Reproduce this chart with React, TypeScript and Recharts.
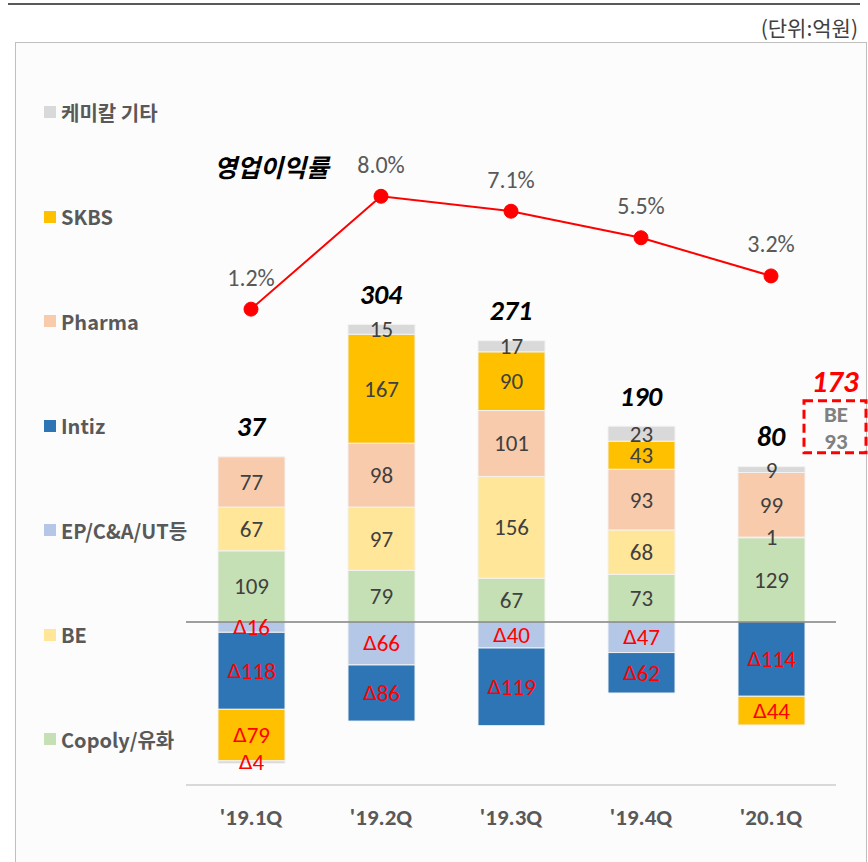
import { ComposedChart, Bar, Line, XAxis, YAxis, LabelList, ReferenceLine } from "recharts";

const categories = ["'19.1Q", "'19.2Q", "'19.3Q", "'19.4Q", "'20.1Q"];
const copoly = [109, 79, 67, 73, 129];
const ep = [-16, -66, -40, -47, 1];
const be = [67, 97, 156, 68, null];
const intiz = [-118, -86, -119, -62, -114];
const pharma = [77, 98, 101, 93, 99];
const skbs = [-79, 167, 90, 43, -44];
const etc = [-4, 15, 17, 23, 9];
const totals = [37, 304, 271, 190, 80];
const opMargin = [1.2, 8.0, 7.1, 5.5, 3.2];
const beAdd = 93;
const totalWithBe = 173;

const series = [
  { key: "copoly", name: "Copoly/유화", color: "#C5E0B4" },
  { key: "ep", name: "EP/C&A/UT등", color: "#B4C7E7" },
  { key: "be", name: "BE", color: "#FFE699" },
  { key: "intiz", name: "Intiz", color: "#2E75B6" },
  { key: "pharma", name: "Pharma", color: "#F8CBAD" },
  { key: "skbs", name: "SKBS", color: "#FFC000" },
  { key: "etc", name: "케미칼 기타", color: "#D9D9D9" },
];

const legendOrder = ["etc", "skbs", "pharma", "intiz", "ep", "be", "copoly"];

const data = categories.map((name, i) => {
  const vals = [copoly[i], ep[i], be[i], intiz[i], pharma[i], skbs[i], etc[i]];
  const posTop = vals.reduce((s: number, v) => s + (v != null && v > 0 ? v : 0), 0);
  return {
    name,
    copoly: copoly[i],
    ep: ep[i],
    be: be[i],
    intiz: intiz[i],
    pharma: pharma[i],
    skbs: skbs[i],
    etc: etc[i],
    total: totals[i],
    margin: opMargin[i],
    posTop,
  };
});

const numFont = "Carlito, Lato, 'Noto Sans CJK KR', sans-serif";
const krFont = "'Noto Sans CJK KR', 'Noto Sans', sans-serif";

const SegLabel = (props: any) => {
  const { x, y, width, height, value } = props;
  if (value == null) return null;
  const cx = x + width / 2;
  const cy = y + height / 2;
  const neg = value < 0;
  return (
    <text
      x={cx}
      y={cy}
      textAnchor="middle"
      dominantBaseline="central"
      fontSize={23}
      fontFamily={numFont}
      fill={neg ? "#FF0000" : "#404040"}
    >
      {neg && (
        <tspan fontFamily="'DejaVu Sans', sans-serif" fontSize={20}>
          {"Δ"}
        </tspan>
      )}
      {neg ? Math.abs(value) : value}
    </text>
  );
};

const TotalLabel = (props: any) => {
  const { x, y, value, index } = props;
  return (
    <g>
      <text
        x={x}
        y={y - 30}
        textAnchor="middle"
        dominantBaseline="central"
        fontSize={28}
        fontWeight="bold"
        fontStyle="italic"
        fontFamily={numFont}
        fill="#000"
      >
        {value}
      </text>
      {index === categories.length - 1 && (
        <g>
          <text
            x={x + 64}
            y={y - 86}
            textAnchor="middle"
            dominantBaseline="central"
            fontSize={31}
            fontWeight="bold"
            fontStyle="italic"
            fontFamily={numFont}
            fill="#FF0000"
          >
            {totalWithBe}
          </text>
          <rect
            x={x + 33}
            y={y - 66}
            width={62}
            height={52}
            fill="none"
            stroke="#FF0000"
            strokeWidth={3}
            strokeDasharray="9 5"
          />
          <text x={x + 65} y={y - 53} textAnchor="middle" dominantBaseline="central" fontSize={23} fontWeight="bold" fontFamily={numFont} fill="#808080">
            BE
          </text>
          <text x={x + 65} y={y - 26} textAnchor="middle" dominantBaseline="central" fontSize={23} fontWeight="bold" fontFamily={numFont} fill="#808080">
            {beAdd}
          </text>
        </g>
      )}
    </g>
  );
};

const MarginLabel = (props: any) => {
  const { x, y, value } = props;
  return (
    <text
      x={x}
      y={y - 32}
      textAnchor="middle"
      dominantBaseline="central"
      fontSize={24}
      fontFamily={numFont}
      fill="#595959"
    >
      {value.toFixed(1) + "%"}
    </text>
  );
};

export default function App() {
  return (
    <div style={{ position: "absolute", left: 0, top: 0, width: 868, height: 862, background: "#fff", overflow: "hidden" }}>
      <div style={{ position: "absolute", left: 8, top: 3, width: 852, height: 2, background: "#595959" }} />
      <div style={{ position: "absolute", right: 10, top: 12, fontSize: 21, color: "#404040", fontFamily: krFont }}>
        (단위:억원)
      </div>
      <div
        style={{
          position: "absolute",
          left: 15,
          top: 42,
          width: 850,
          height: 840,
          border: "1px solid #bfbfbf",
          background: "#fcfcfc",
        }}
      />

      {legendOrder.map((k, i) => {
        const s = series.find((d) => d.key === k)!;
        return (
          <div
            key={k}
            style={{
              position: "absolute",
              left: 44,
              top: 112 + i * 104.5 - 14,
              height: 28,
              display: "flex",
              alignItems: "center",
              fontFamily: krFont,
              fontWeight: "bold",
              fontSize: 20,
              color: "#595959",
              whiteSpace: "nowrap",
            }}
          >
            <span style={{ display: "inline-block", width: 12, height: 12, background: s.color, marginRight: 5 }} />
            {s.name}
          </div>
        );
      })}

      <div
        style={{
          position: "absolute",
          left: 214,
          top: 148,
          fontSize: 25,
          fontWeight: "bold",
          fontStyle: "italic",
          fontFamily: krFont,
          color: "#000",
        }}
      >
        영업이익률
      </div>

      <div style={{ position: "absolute", left: 0, top: 0 }}>
        <ComposedChart
          width={868}
          height={862}
          data={data}
          stackOffset="sign"
          margin={{ top: 100, right: 32, bottom: 47, left: 186 }}
        >
          <XAxis
            dataKey="name"
            height={30}
            axisLine={{ stroke: "#d9d9d9", strokeWidth: 2 }}
            tickLine={false}
            tickSize={0}
            tickMargin={24}
            tick={{ fontSize: 23, fontWeight: "bold", fill: "#595959", fontFamily: numFont }}
            interval={0}
          />
          <YAxis yAxisId="left" hide domain={[-250, 800]} allowDataOverflow type="number" />
          <YAxis yAxisId="right" orientation="right" hide domain={[-27.47, 13.8]} allowDataOverflow type="number" />
          {series.map((s) => (
            <Bar
              key={s.key}
              yAxisId="left"
              dataKey={s.key}
              name={s.name}
              stackId="a"
              fill={s.color}
              stroke="#f2f2f2"
              strokeWidth={1}
              barSize={67}
              isAnimationActive={false}
            >
              <LabelList dataKey={s.key} content={SegLabel} />
            </Bar>
          ))}
          <ReferenceLine yAxisId="left" y={0} stroke="#808080" strokeWidth={1.5} />
          <Line
            yAxisId="left"
            dataKey="posTop"
            stroke="none"
            dot={false}
            activeDot={false}
            legendType="none"
            isAnimationActive={false}
          >
            <LabelList dataKey="total" content={TotalLabel} />
          </Line>
          <Line
            yAxisId="right"
            dataKey="margin"
            stroke="#FF0000"
            strokeWidth={2}
            dot={{ r: 7, fill: "#FF0000", stroke: "#FF0000", strokeWidth: 1 }}
            activeDot={false}
            isAnimationActive={false}
          >
            <LabelList dataKey="margin" content={MarginLabel} />
          </Line>
        </ComposedChart>
      </div>
    </div>
  );
}
